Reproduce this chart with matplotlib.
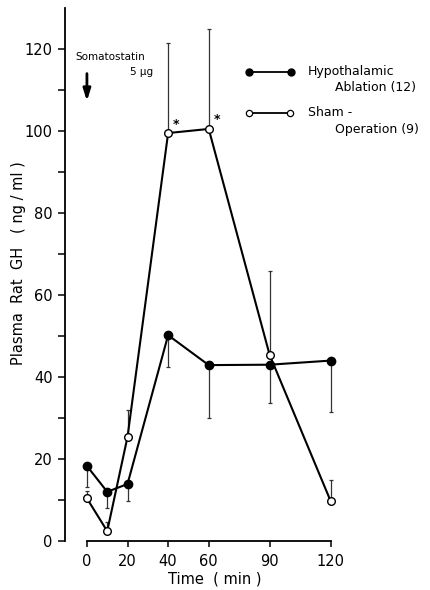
import matplotlib
matplotlib.use("Agg")
import matplotlib.pyplot as plt
from matplotlib.lines import Line2D

# Data
time = [0, 10, 20, 40, 60, 90, 120]
ablation = [18.3, 12.0, 13.9, 50.2, 42.9, 43.0, 44.0]
ablation_err = [5.1, 4.0, 4.1, 7.8, 12.9, 9.3, 12.5]   # downward
sham = [10.4, 2.4, 25.4, 99.5, 100.5, 45.4, 9.8]
sham_err = [1.8, 2.2, 6.6, 22.0, 24.4, 20.5, 5.0]      # upward
xticks = [0, 20, 40, 60, 90, 120]
yticks_major = [0, 20, 40, 60, 80, 100, 120]
yticks_minor = [10, 30, 50, 70, 90, 110]

plt.rcParams['font.family'] = ['DejaVu Sans']

fig = plt.figure(figsize=(4.31, 5.90), dpi=100)
ax = fig.add_axes([65/431, 49/590, 366/431, 533/590])
ax.set_xlim(-10.8, 169.5)
ax.set_ylim(0, 130)

# error bars (one-sided)
ax.errorbar(time, ablation, yerr=[ablation_err, [0]*len(time)], fmt='none',
            ecolor='#333333', elinewidth=0.9, capsize=1.2, capthick=0.9, zorder=2)
ax.errorbar(time, sham, yerr=[[0]*len(time), sham_err], fmt='none',
            ecolor='#333333', elinewidth=0.9, capsize=1.2, capthick=0.9, zorder=2)

ax.plot(time, ablation, '-', color='black', lw=1.5, marker='o', ms=6.0,
        mfc='black', mec='black', zorder=4)
ax.plot(time, sham, '-', color='black', lw=1.5, marker='o', ms=5.5,
        mfc='white', mec='black', mew=1.0, zorder=5)

# asterisks
for t, v in [(40, 99.5), (60, 100.5)]:
    ax.text(t + 2.3, v + 0.6, '*', fontsize=9, fontweight='bold',
            ha='left', va='bottom')

# spines
for s in ['top', 'right']:
    ax.spines[s].set_visible(False)
ax.spines['bottom'].set_bounds(0, 120)
ax.spines['left'].set_linewidth(1.3)
ax.spines['bottom'].set_linewidth(1.3)
ax.spines['left'].set_bounds(0, 130)

ax.set_xticks(xticks)
ax.set_xticklabels([str(x) for x in xticks])
ax.set_yticks(yticks_major)
ax.set_yticks(yticks_minor, minor=True)
ax.tick_params(axis='both', which='major', direction='out', length=5, width=1.1,
               labelsize=10.5, pad=4)
ax.tick_params(axis='y', which='minor', direction='out', length=5, width=1.1)
ax.tick_params(axis='x', which='major', length=4, pad=5)

ax.set_xlabel('Time  ( min )', fontsize=10.5)
ax.xaxis.set_label_coords((215-65)/366, -0.058)
ax.set_ylabel('Plasma  Rat  GH   ( ng / ml )', fontsize=10.5)
ax.yaxis.set_label_coords((26-65)/366, (541-263)/533)

# Somatostatin annotation
fig.text(75/431, 1 - 57/590, 'Somatostatin', fontsize=7.5, ha='left', va='center')
fig.text(153/431, 1 - 72/590, '5 μg', fontsize=7.5, ha='right', va='center')
ax.annotate('', xy=(0, 107.3), xytext=(0, 114.0),
            arrowprops=dict(arrowstyle='-|>,head_width=0.22,head_length=0.7',
                            color='black', lw=2.0, shrinkA=0, shrinkB=0))

# legend (manual)
def fx(px):
    return px / 431
def fy(py):
    return 1 - py / 590
fig.add_artist(Line2D([fx(249), fx(291)], [fy(72), fy(72)], color='black', lw=1.3,
                      marker='o', ms=5, mfc='black', mec='black'))
fig.add_artist(Line2D([fx(249), fx(290)], [fy(113), fy(113)], color='black', lw=1.3,
                      marker='o', ms=4.5, mfc='white', mec='black', mew=0.9))
fig.text(fx(308), fy(72), 'Hypothalamic', fontsize=9, ha='left', va='center')
fig.text(fx(335), fy(88), 'Ablation (12)', fontsize=9, ha='left', va='center')
fig.text(fx(308), fy(113), 'Sham -', fontsize=9, ha='left', va='center')
fig.text(fx(335), fy(129), 'Operation (9)', fontsize=9, ha='left', va='center')

fig.savefig('out.png', dpi=100)
